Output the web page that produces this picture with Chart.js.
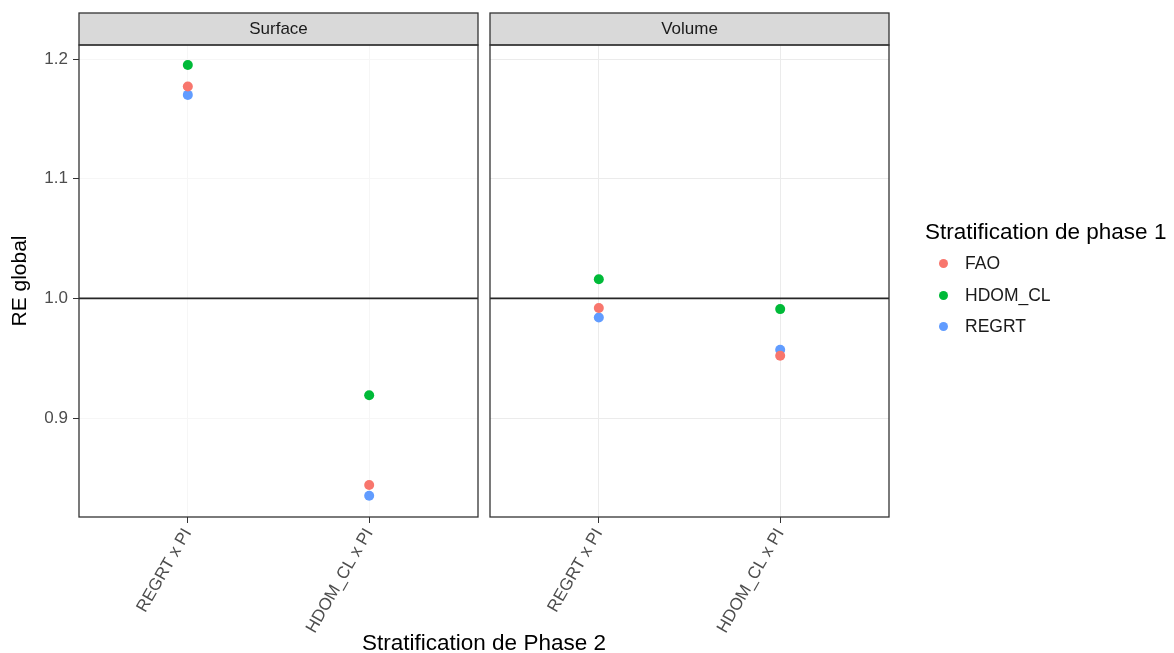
<!DOCTYPE html>
<html>
<head>
<meta charset="utf-8">
<script src="https://cdn.jsdelivr.net/npm/chart.js@4/dist/chart.umd.min.js"></script>
<style>
  html, body { margin: 0; padding: 0; background: #fff; }
  #wrap { position: relative; width: 1174px; height: 653px; overflow: hidden;
          font-family: 'Liberation Sans', Arial, sans-serif; }
  canvas { position: absolute; top: 0; }
  #c1 { left: 0; }
  #c2 { left: 484px; }
  #xtitle { position: absolute; left: 0; width: 968px; top: 632px; text-align: center;
            font-size: 22.5px; line-height: 22px; color: #000; }
  #legend { position: absolute; left: 925px; top: 221px; color: #000; }
  #legend .ttl { font-size: 22.5px; line-height: 22px; white-space: nowrap; }
  #legend .row { position: relative; height: 31.5px; }
  #legend .dot { position: absolute; left: 13.5px; width: 9px; height: 9px; border-radius: 50%; }
  #legend .lab { position: absolute; left: 40px; font-size: 17.5px; line-height: 17px; color: #1a1a1a; white-space: nowrap; }
</style>
</head>
<body>
<div id="wrap">
  <canvas id="c1" width="484" height="653"></canvas>
  <canvas id="c2" width="690" height="653"></canvas>
  <div id="xtitle">Stratification de Phase 2</div>
  <div id="legend"></div>
</div>
<script>
// Facets, categories and series
const facets = ['Surface', 'Volume'];
const phase2Labels = ['REGRT x PI', 'HDOM_CL x PI'];
const phase1Names = ['FAO', 'HDOM_CL', 'REGRT'];
const phase1Colors = ['#F8766D', '#00BA38', '#619CFF'];

// RE global per phase-2 stratification (REGRT x PI, HDOM_CL x PI)
const surfaceFAO = [1.177, 0.844];
const surfaceHDOM_CL = [1.195, 0.919];
const surfaceREGRT = [1.170, 0.835];
const volumeFAO = [0.992, 0.952];
const volumeHDOM_CL = [1.016, 0.991];
const volumeREGRT = [0.984, 0.957];

// Axis settings
const yTickValues = [0.9, 1.0, 1.1, 1.2];
const yLimits = [0.8173, 1.2117];
const referenceLine = 1.0;

const FONT = "'Liberation Sans', Arial, sans-serif";

function toPoints(values) {
  return values.map((v, i) => ({ x: i + 1, y: v }));
}

function makeDatasets(seriesList) {
  return seriesList.map((vals, k) => ({
    label: phase1Names[k],
    data: toPoints(vals),
    backgroundColor: phase1Colors[k],
    borderColor: phase1Colors[k],
    borderWidth: 0,
    pointRadius: 5,
    pointHoverRadius: 5,
    showLine: false
  }));
}

// Draws the facet frame: reference line, panel border and strip label
const facetFrame = {
  id: 'facetFrame',
  beforeDatasetsDraw(chart, args, opts) {
    const { ctx, chartArea: a } = chart;
    const y = chart.scales.y.getPixelForValue(referenceLine);
    ctx.save();
    ctx.strokeStyle = '#262626';
    ctx.lineWidth = 1.6;
    ctx.beginPath();
    ctx.moveTo(a.left, y);
    ctx.lineTo(a.right, y);
    ctx.stroke();
    ctx.restore();
  },
  afterDraw(chart, args, opts) {
    const { ctx, chartArea: a } = chart;
    ctx.save();
    // strip
    const stripTop = a.top - 32;
    ctx.fillStyle = '#d9d9d9';
    ctx.fillRect(a.left, stripTop, a.right - a.left, 32);
    ctx.strokeStyle = '#333333';
    ctx.lineWidth = 1.3;
    ctx.strokeRect(a.left, stripTop, a.right - a.left, 32);
    ctx.fillStyle = '#1a1a1a';
    ctx.font = '17px ' + FONT;
    ctx.textAlign = 'center';
    ctx.textBaseline = 'middle';
    ctx.fillText(opts.title, (a.left + a.right) / 2, stripTop + 16.5);
    // panel border
    ctx.strokeRect(a.left, a.top, a.right - a.left, a.bottom - a.top);
    ctx.restore();
  }
};

function buildOptions(facetTitle, showY, gridColor, padRight) {
  return {
    responsive: false,
    animation: false,
    events: [],
    layout: { padding: { left: 0, right: padRight, top: 45, bottom: 0 } },
    plugins: {
      legend: { display: false },
      tooltip: { enabled: false },
      facetFrame: { title: facetTitle }
    },
    scales: {
      x: {
        type: 'linear',
        min: 0.4,
        max: 2.6,
        afterBuildTicks: s => { s.ticks = phase2Labels.map((_, i) => ({ value: i + 1 })); },
        afterFit: s => { s.height = 136; },
        border: { display: false },
        grid: { color: gridColor, lineWidth: 1, tickColor: '#333333', tickLength: 6, drawTicks: true },
        ticks: {
          autoSkip: false,
          minRotation: 60,
          maxRotation: 60,
          padding: 2,
          color: '#4d4d4d',
          font: { family: FONT, size: 17 },
          callback: (v) => phase2Labels[Math.round(v) - 1] || ''
        }
      },
      y: {
        type: 'linear',
        min: yLimits[0],
        max: yLimits[1],
        afterBuildTicks: s => { s.ticks = yTickValues.map(v => ({ value: v })); },
        afterFit: s => { s.width = showY ? 79 : 6; },
        border: { display: false },
        grid: { color: gridColor, lineWidth: 1, tickColor: '#333333', tickLength: 6, drawTicks: showY },
        ticks: {
          display: showY,
          padding: 5,
          color: '#4d4d4d',
          font: { family: FONT, size: 17 },
          callback: v => Number(v).toFixed(1)
        },
        title: {
          display: showY,
          text: 'RE global',
          color: '#000',
          font: { family: FONT, size: 21 },
          padding: { top: 8, bottom: 0 }
        }
      }
    }
  };
}

new Chart(document.getElementById('c1'), {
  type: 'scatter',
  data: { datasets: makeDatasets([surfaceFAO, surfaceHDOM_CL, surfaceREGRT]) },
  options: buildOptions(facets[0], true, '#f6f6f6', 6),
  plugins: [facetFrame]
});

new Chart(document.getElementById('c2'), {
  type: 'scatter',
  data: { datasets: makeDatasets([volumeFAO, volumeHDOM_CL, volumeREGRT]) },
  options: buildOptions(facets[1], false, '#ebebeb', 285),
  plugins: [facetFrame]
});

// Legend for the phase-1 stratification
const legend = document.getElementById('legend');
const ttl = document.createElement('div');
ttl.className = 'ttl';
ttl.textContent = 'Stratification de phase 1';
ttl.style.marginBottom = '5px';
legend.appendChild(ttl);
phase1Names.forEach((name, k) => {
  const row = document.createElement('div');
  row.className = 'row';
  const dot = document.createElement('div');
  dot.className = 'dot';
  dot.style.background = phase1Colors[k];
  dot.style.top = '11px';
  const lab = document.createElement('div');
  lab.className = 'lab';
  lab.style.top = '7px';
  lab.textContent = name;
  row.appendChild(dot);
  row.appendChild(lab);
  legend.appendChild(row);
});
</script>
</body>
</html>
